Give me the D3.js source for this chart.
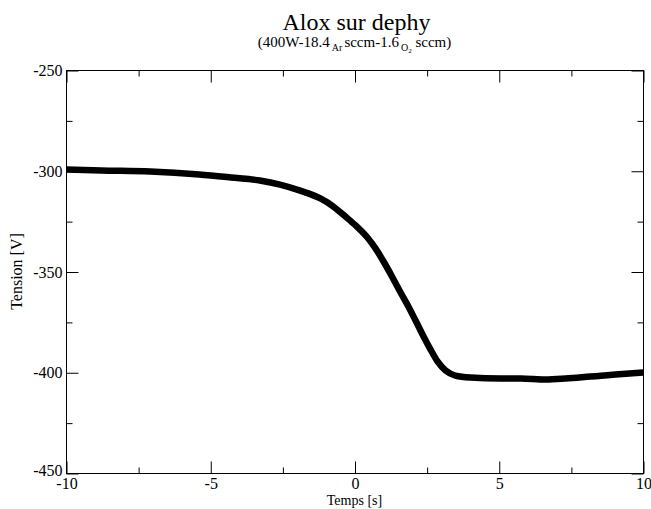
<!DOCTYPE html>
<html>
<head>
<meta charset="utf-8">
<script src="https://cdn.jsdelivr.net/npm/d3@7"></script>
<style>
  body { margin: 0; background: #fff; }
  text { font-family: "Liberation Serif", "DejaVu Serif", serif; fill: #000; }
</style>
</head>
<body>
<div id="chart"></div>
<script>
const layout = {
    width: 651,
    height: 509,
    marginLeft: 66,
    marginTop: 70,
    plotWidth: 577,
    plotHeight: 403
};

// values
const times = [-10, -8.8, -7.1, -5.4, -4.3, -3.3, -2.6, -1.9, -1.2, -0.75, -0.33, 0.02,
    0.43, 0.71, 0.99, 1.3, 1.58, 1.85, 2.1, 2.34, 2.62, 2.86, 3.14, 3.48, 4.0, 5.04,
    5.74, 6.6, 7.3, 8.16, 9.03, 10];
const tension = [-299.1, -299.6, -300.1, -301.6, -303.1, -304.6, -306.6, -309.6, -313.5,
    -317.5, -322.5, -326.9, -332.9, -338.3, -344.8, -352.7, -360.2, -367.1, -374.1, -381.0,
    -388.5, -394.4, -398.9, -401.4, -402.4, -402.9, -402.9, -403.4, -402.9, -401.9, -400.9, -399.9];
const xMajor = [-10, -5, 0, 5, 10];
const xMinor = [-7.5, -2.5, 2.5, 7.5];
const yMajor = [-450, -400, -350, -300, -250];
const yMinor = [-425, -375, -325, -275];

let svg = d3.select("#chart").append("svg")
    .attr("width", layout.width)
    .attr("height", layout.height);

let xScale = d3.scaleLinear().domain([-10, 10]).range([0, layout.plotWidth]);
let yScale = d3.scaleLinear().domain([-450, -250]).range([layout.plotHeight, 0]);

let plot = svg.append("g")
    .attr("transform", `translate(${layout.marginLeft + 0.5},${layout.marginTop + 0.5})`);

// data line
let line = d3.line()
    .x((d, i) => xScale(times[i]))
    .y(d => yScale(d))
    .curve(d3.curveMonotoneX);

plot.append("path")
    .datum(tension)
    .attr("fill", "none")
    .attr("stroke", "#000")
    .attr("stroke-width", 6.5)
    .attr("stroke-linejoin", "round")
    .attr("d", line);

// axes, ticks pointing inward
const styleAxis = (g) => {
    g.select(".domain").remove();
    g.selectAll("line").attr("stroke", "#000");
    g.selectAll("text").attr("font-size", 16).style("font-family", "Liberation Serif");
};
const plain = d => String(d);

plot.append("g")
    .attr("transform", `translate(0,${layout.plotHeight})`)
    .call(d3.axisBottom(xScale).tickValues(xMajor).tickSize(-12).tickPadding(4).tickFormat(plain))
    .call(styleAxis);
plot.append("g")
    .attr("transform", `translate(0,${layout.plotHeight})`)
    .call(d3.axisBottom(xScale).tickValues(xMinor).tickSize(-6).tickFormat(""))
    .call(styleAxis);
plot.append("g")
    .call(d3.axisTop(xScale).tickValues(xMajor).tickSize(-12).tickFormat(""))
    .call(styleAxis);
plot.append("g")
    .call(d3.axisTop(xScale).tickValues(xMinor).tickSize(-6).tickFormat(""))
    .call(styleAxis);

let yAxis = plot.append("g")
    .call(d3.axisLeft(yScale).tickValues(yMajor).tickSize(-12).tickPadding(4).tickFormat(plain))
    .call(styleAxis);
// lift the bottom label a little so it clears the -10 below it
yAxis.selectAll(".tick").filter(d => d === -450).select("text").attr("y", -3);
plot.append("g")
    .call(d3.axisLeft(yScale).tickValues(yMinor).tickSize(-6).tickFormat(""))
    .call(styleAxis);
plot.append("g")
    .attr("transform", `translate(${layout.plotWidth},0)`)
    .call(d3.axisRight(yScale).tickValues(yMajor).tickSize(-12).tickFormat(""))
    .call(styleAxis);
plot.append("g")
    .attr("transform", `translate(${layout.plotWidth},0)`)
    .call(d3.axisRight(yScale).tickValues(yMinor).tickSize(-6).tickFormat(""))
    .call(styleAxis);

// frame
plot.append("rect")
    .attr("width", layout.plotWidth)
    .attr("height", layout.plotHeight)
    .attr("fill", "none")
    .attr("stroke", "#000")
    .attr("stroke-width", 1);

// titles
let cx = layout.marginLeft + layout.plotWidth / 2;
svg.append("text")
    .attr("x", cx + 2)
    .attr("y", 30)
    .attr("text-anchor", "middle")
    .attr("font-size", 24)
    .text("Alox sur dephy");

let sub = svg.append("text")
    .attr("x", cx)
    .attr("y", 47)
    .attr("text-anchor", "middle")
    .attr("font-size", 15);
sub.append("tspan").text("(400W-18.4");
sub.append("tspan").attr("font-size", 10).attr("dx", 2).attr("dy", 4).text("Ar");
sub.append("tspan").attr("dx", 2).attr("dy", -4).text("sccm-1.6");
sub.append("tspan").attr("font-size", 10).attr("dx", 2).attr("dy", 4).text("O");
sub.append("tspan").attr("font-size", 7).attr("dy", 2).text("2");
sub.append("tspan").attr("dy", -6).text(" sccm)");

svg.append("text")
    .attr("x", cx)
    .attr("y", 505)
    .attr("text-anchor", "middle")
    .attr("font-size", 14)
    .text("Temps [s]");

svg.append("text")
    .attr("transform", `translate(22,${layout.marginTop + layout.plotHeight / 2}) rotate(-90)`)
    .attr("text-anchor", "middle")
    .attr("font-size", 16)
    .text("Tension [V]");
</script>
</body>
</html>
